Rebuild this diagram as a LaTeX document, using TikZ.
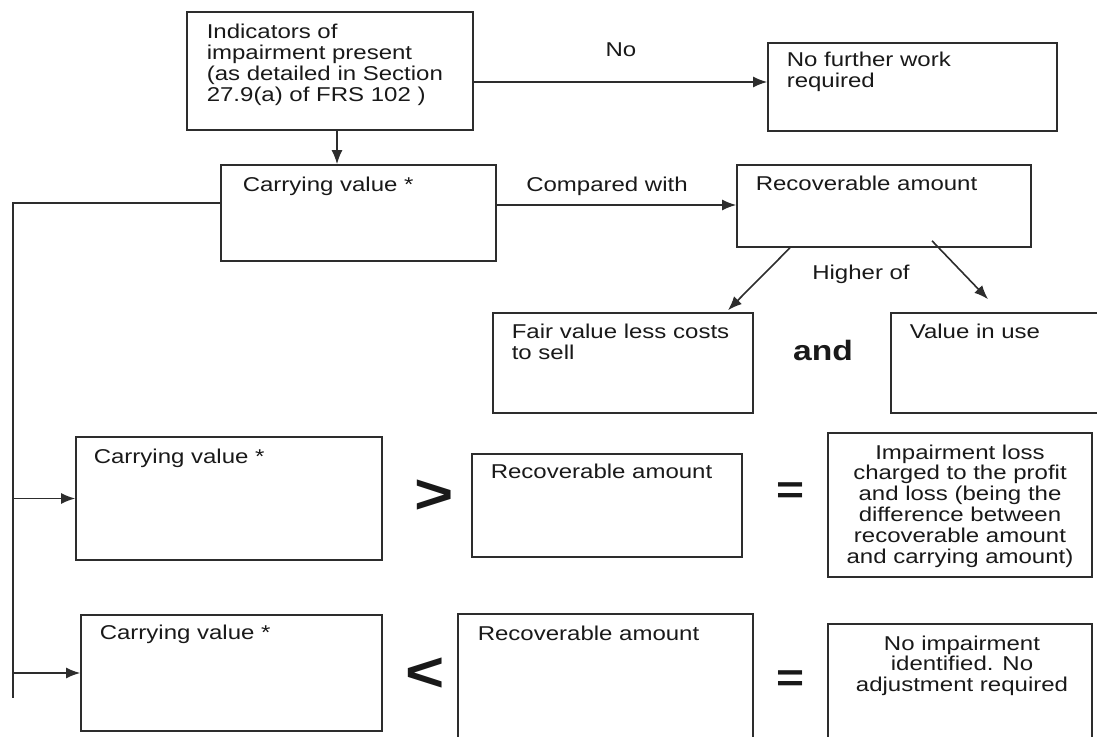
\documentclass[tikz,border=0pt]{standalone}
\usepackage{fontspec}
\setmainfont[FakeStretch=1.2]{Liberation Sans}
\usetikzlibrary{arrows.meta,fit}
\definecolor{linec}{RGB}{45,45,45}
\definecolor{textc}{RGB}{25,25,25}
\begin{document}
\begin{tikzpicture}[x=0.5pt,y=-0.5pt,line width=0.8pt,
  box/.style={draw=linec,inner sep=0pt},
  txt/.style={inner sep=0pt,anchor=base west,align=left,text=textc,font=\fontsize{10}{10.4}\selectfont},
  ctxt/.style={inner sep=0pt,anchor=base,align=center,text=textc,font=\fontsize{10}{10.4}\selectfont},
  arr/.style={draw=linec,-{Latex[length=7pt,width=5.5pt]}},
  ln/.style={draw=linec},
  sym/.style={inner sep=0pt,text=textc,font=\bfseries\fontsize{28}{28}\selectfont},
  eqs/.style={inner sep=0pt,text=textc,font=\bfseries\fontsize{20}{20}\selectfont},
  andtxt/.style={inner sep=0pt,text=textc,font=\bfseries\fontsize{14}{14}\selectfont}]
\useasboundingbox (0,0) rectangle (1097,737);
\clip (0,0) rectangle (1097,737);
% top row (multi-line nodes are placed by the baseline of their last line)
\node[box,fit={(187,12) (473,130)}] (A) {};
\node[txt] (At) at (206,101.4) {Indicators of\\impairment present\\(as detailed in Section\\27.9(a) of FRS 102 )};
\node[box,fit={(768,43) (1057,131)}] (C) {};
\node[txt] (Ct) at (786,87.8) {No further work\\required};
\node[ctxt] (no) at (621,57) {No};
% second row
\node[box,fit={(221,165) (496,261)}] (B) {};
\node[txt] (Bt) at (242,192) {Carrying value *};
\node[ctxt] (cw) at (607,192) {Compared with};
\node[box,fit={(737,165) (1031,247)}] (D) {};
\node[txt] (Dt) at (755,191) {Recoverable amount};
\node[ctxt] (ho) at (861,280) {Higher of};
% third row
\node[box,fit={(493,313) (753,413)}] (E) {};
\node[txt] (Et) at (511,359.8) {Fair value less costs\\to sell};
\node[andtxt] (and) at (823,350) {and};
\node[box,fit={(891,313) (1110,413)}] (F) {};
\node[txt] (Ft) at (909,339) {Value in use};
% fourth row
\node[box,fit={(76,437) (382,560)}] (G) {};
\node[txt] (Gt) at (93,463) {Carrying value *};
\node[sym] (gt) at (434,497) {>};
\node[box,fit={(472,454) (742,557)}] (H) {};
\node[txt] (Ht) at (490,478) {Recoverable amount};
\node[eqs] (eq1) at (791,493) {=};
\node[box,fit={(828,433) (1092,577)}] (I) {};
\node[ctxt] (It) at (960,563) {Impairment loss\\charged to the profit\\and loss (being the\\difference between\\recoverable amount\\and carrying amount)};
% fifth row
\node[box,fit={(81,615) (382,731)}] (J) {};
\node[txt] (Jt) at (99,639) {Carrying value *};
\node[sym] (lt) at (425,675) {<};
\node[box,fit={(458,614) (753,760)}] (K) {};
\node[txt] (Kt) at (477,640) {Recoverable amount};
\node[eqs] (eq2) at (791,681) {=};
\node[box,fit={(828,624) (1092,760)}] (L) {};
\node[ctxt] (Lt) at (962,691.6) {No impairment\\identified. No\\adjustment required};
% connectors
\draw[arr] (A.south -| 337,0) -- (B.north -| 337,0);
\draw[arr] (A.east |- 0,82) -- (C.west |- 0,82);
\draw[arr] (B.east |- 0,205) -- (D.west |- 0,205);
\draw[arr] (D.south -| 790,0) -- ([yshift=1pt]E.north -| 728,0);
\draw[arr] ([yshift=3.5pt]D.south -| 932,0) -- ([yshift=6.5pt]F.north -| 988,0);
\draw[ln] (B.west |- 0,203) -- (13,203) -- (13,698);
\draw[arr] (13,0 |- G.west) -- (G.west);
\draw[arr] (13,0 |- J.west) -- (J.west);
\end{tikzpicture}
\end{document}
